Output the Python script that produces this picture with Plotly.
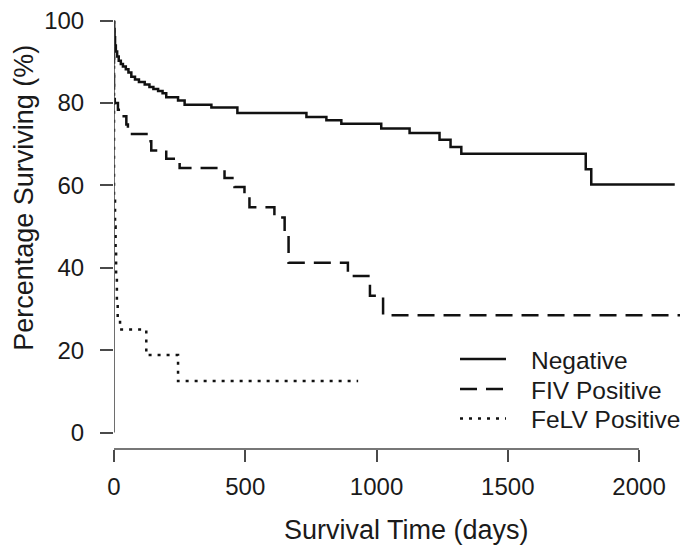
import plotly.graph_objects as go

# ---- data ----
neg_days = [0, 0, 2, 4, 7, 12, 18, 26, 34, 45, 55, 66, 80, 95, 117, 135, 150, 168, 185, 199,
            244, 269, 371, 470, 733, 809, 866, 1018, 1126, 1240, 1282, 1323, 1797, 1818, 2136]
neg_surv = [100, 98, 96, 94, 92.5, 91.3, 90.3, 89.5, 88.9, 88.2, 87.4, 86.4, 85.7, 85.1, 84.5, 83.9,
            83.4, 82.9, 82.4, 81.4, 80.6, 79.6, 78.9, 77.6, 76.6, 75.8, 75.0, 73.8, 72.7, 71.1,
            69.3, 67.7, 63.9, 60.2, 60.2]

fiv_days = [0, 0, 3, 15, 28, 47, 53, 130, 142, 199, 250, 421, 459, 497, 516, 611, 650, 665,
            891, 975, 1025, 2206]
fiv_surv = [100, 81.0, 80.0, 78.4, 76.8, 74.8, 72.5, 70.7, 68.5, 66.5, 64.2, 61.8, 59.6, 57.3,
            54.7, 52.2, 48.9, 41.2, 38.0, 33.2, 28.5, 28.5]

felv_days = [0, 0, 4, 6, 8, 11, 14, 23, 123, 244, 930]
felv_surv = [100, 56.3, 50.0, 43.8, 37.5, 31.3, 28.0, 25.0, 18.8, 12.5, 12.5]

series_names = ["Negative", "FIV Positive", "FeLV Positive"]
series_dash = ["solid", "17px,9px", "3px,6px"]

x_ticks = [0, 500, 1000, 1500, 2000]
y_ticks = [0, 20, 40, 60, 80, 100]

FONT = "Liberation Sans, Arial, Helvetica, sans-serif"
INK = "#1a1a1a"
AXC = "#4a4a4a"
LINEC = "#111111"

# plot-area geometry (px)
W, H = 688, 549
ML, MR, MT, MB = 106, 0, 0, 107.5
PW, PH = W - ML - MR, H - MT - MB

fig = go.Figure()
for xs, ys, name, dash in zip([neg_days, fiv_days, felv_days], [neg_surv, fiv_surv, felv_surv],
                              series_names, series_dash):
    fig.add_trace(go.Scatter(x=xs, y=ys, mode="lines", name=name, showlegend=False,
                             line=dict(shape="hv", color=LINEC, width=2.5, dash=dash)))

# axis lines spanning only the tick range (R style)
fig.add_shape(type="line", xref="x", yref="paper", x0=x_ticks[0], x1=x_ticks[-1], y0=0, y1=0,
              line=dict(color=AXC, width=1.6))
fig.add_shape(type="line", xref="x", yref="y", x0=0, x1=0, y0=y_ticks[0], y1=y_ticks[-1],
              line=dict(color=AXC, width=1.6))

# legend (R-style, no box)
def px_x(p):
    return (p - ML) / PW

def px_y(p):
    return 1 - (p - MT) / PH

row_y = [351.5, 381.5, 411]
for name, dash, ry in zip(series_names, series_dash, row_y):
    fig.add_shape(type="line", xref="paper", yref="paper", x0=px_x(452), x1=px_x(498),
                  y0=px_y(ry), y1=px_y(ry), line=dict(color=LINEC, width=2.5, dash=dash))
    fig.add_annotation(text=name, xref="paper", yref="paper", x=px_x(521), y=px_y(ry + 1),
                       xanchor="left", yanchor="middle", showarrow=False,
                       font=dict(family=FONT, size=24.5, color=INK))

fig.update_xaxes(range=[0, 2217], tickvals=x_ticks, ticks="outside", ticklen=12, tickwidth=1.6,
                 tickcolor=AXC, showgrid=False, zeroline=False, showline=False, automargin=False,
                 ticklabeloverflow="allow",
                 tickfont=dict(family=FONT, size=24, color=INK), ticklabelstandoff=4)
fig.update_yaxes(range=[-4.0, 103.08], tickvals=y_ticks, ticks="outside", ticklen=13, tickwidth=1.6,
                 tickcolor=AXC, showgrid=False, zeroline=False, showline=False, automargin=False,
                 ticklabeloverflow="allow",
                 tickfont=dict(family=FONT, size=24, color=INK), ticklabelstandoff=11)

fig.add_annotation(text="Survival Time (days)", xref="paper", yref="paper", x=px_x(398),
                   y=px_y(523), xanchor="center", yanchor="middle", showarrow=False,
                   font=dict(family=FONT, size=27, color=INK))
fig.add_annotation(text="Percentage Surviving (%)", xref="paper", yref="paper", x=px_x(16),
                   y=px_y(190), xanchor="center", yanchor="middle", showarrow=False,
                   textangle=-90, font=dict(family=FONT, size=27, color=INK))

fig.update_layout(
    width=W, height=H,
    margin=dict(l=ML, r=MR, t=MT, b=MB, autoexpand=False),
    paper_bgcolor="white", plot_bgcolor="white",
    showlegend=False,
)

fig.write_html("out.html")
